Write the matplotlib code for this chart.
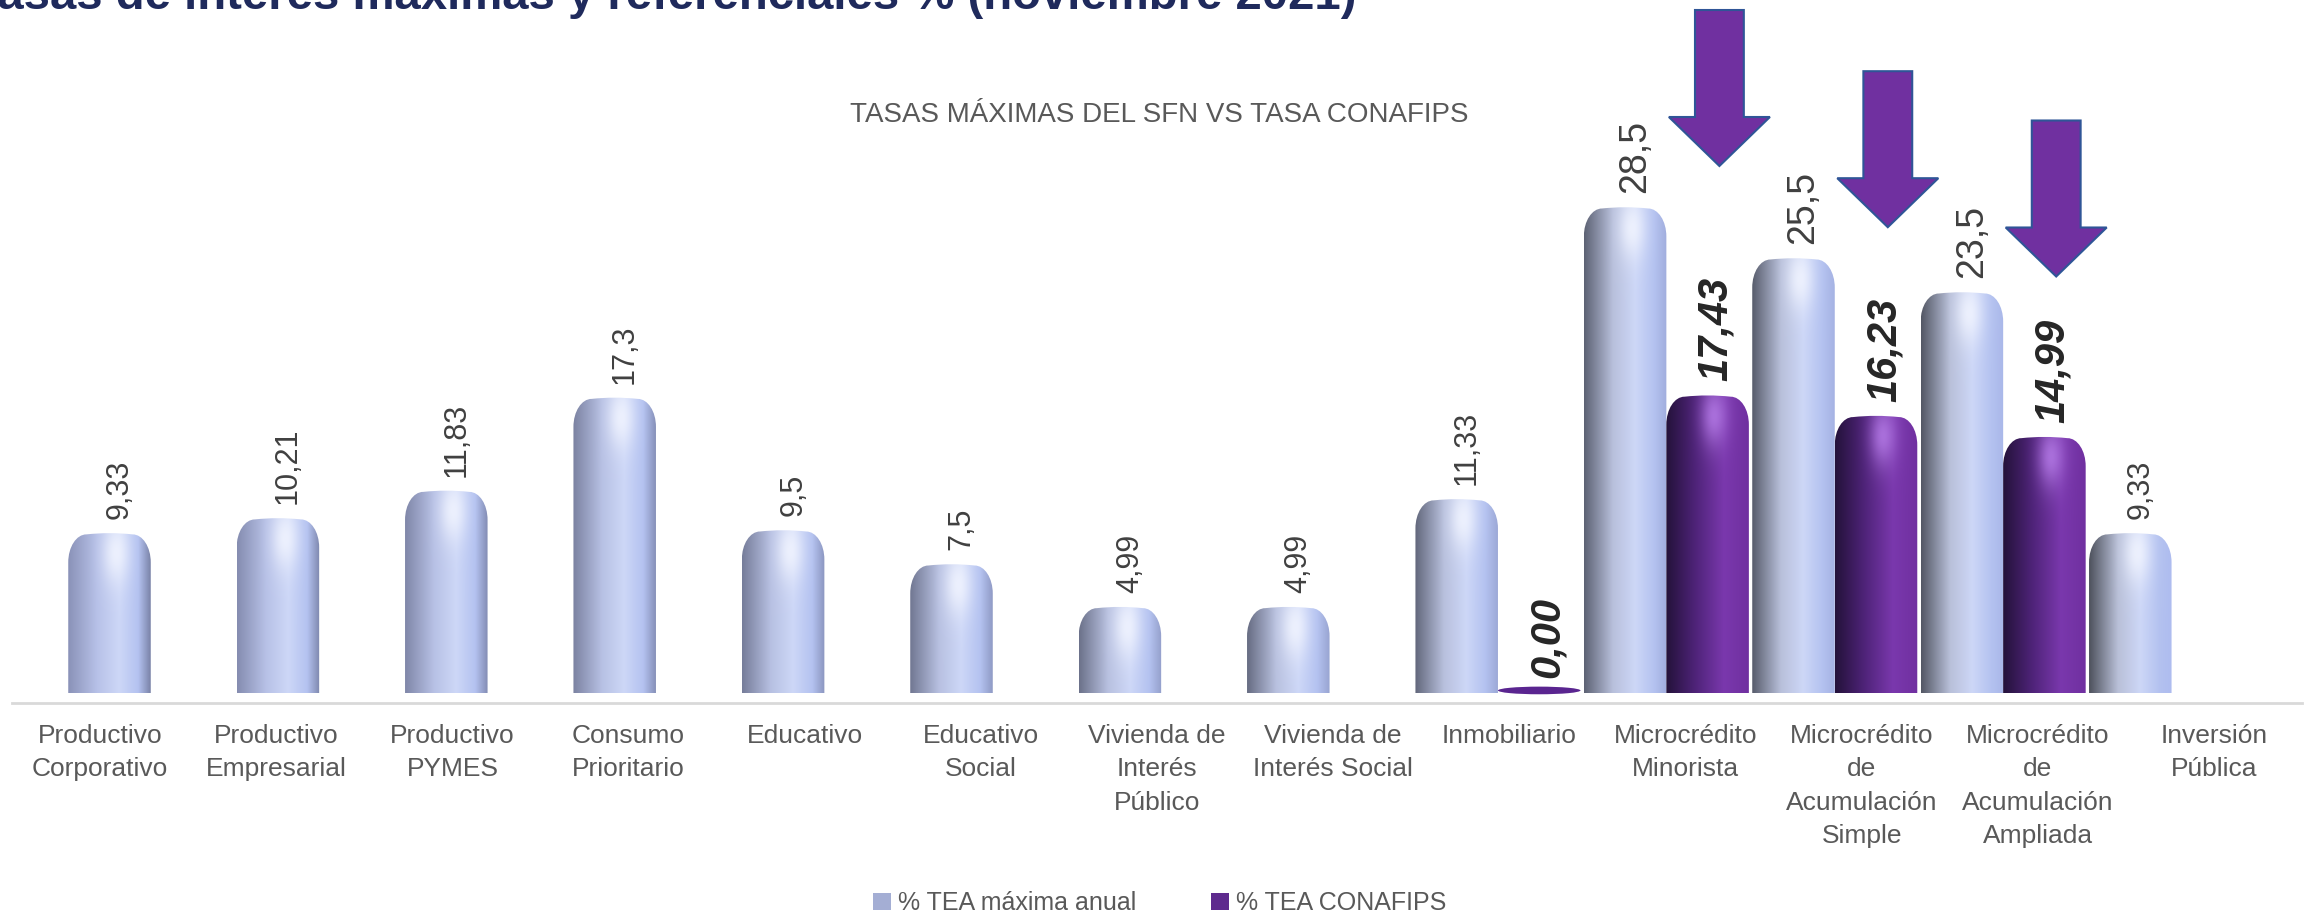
import matplotlib
matplotlib.use("Agg")
import matplotlib.pyplot as plt
import numpy as np
from matplotlib.path import Path
from matplotlib.patches import PathPatch, Polygon, Ellipse, Patch
from matplotlib.colors import to_rgb

plt.rcParams['font.family'] = ['Liberation Sans Narrow', 'Liberation Sans', 'DejaVu Sans']

# datos
categorias = ['Productivo\nCorporativo', 'Productivo\nEmpresarial', 'Productivo\nPYMES',
              'Consumo\nPrioritario', 'Educativo', 'Educativo\nSocial',
              'Vivienda de\nInterés\nPúblico', 'Vivienda de\nInterés Social', 'Inmobiliario',
              'Microcrédito\nMinorista', 'Microcrédito\nde\nAcumulación\nSimple',
              'Microcrédito\nde\nAcumulación\nAmpliada', 'Inversión\nPública']
tea_maxima = [9.33, 10.21, 11.83, 17.3, 9.5, 7.5, 4.99, 4.99, 11.33, 28.5, 25.5, 23.5, 9.33]
tea_conafips = [None, None, None, None, None, None, None, None, 0.00, 17.43, 16.23, 14.99, None]
serie_nombres = ['% TEA máxima anual', '% TEA CONAFIPS']

titulo = 'Tasas de interés máximas y referenciales % (noviembre 2021)'
subtitulo = 'TASAS MÁXIMAS DEL SFN VS TASA CONAFIPS'

# flechas sobre las barras CONAFIPS (punta en unidades del eje)
flechas_punta = [31.0, 27.4, 24.5]
flechas_cat = [9, 10, 11]

W, H = 2321, 919
PX_UNIT_Y = 17.0
PX_UNIT_X = 168.4
BAR_W = 0.49


def fmt(v):
    return ('%g' % v).replace('.', ',')


def ramp(stops, n=120):
    xs = np.linspace(0, 1, n)
    pos = [p for p, _ in stops]
    cols = np.array([to_rgb(c) for _, c in stops])
    return np.stack([np.interp(xs, pos, cols[:, k]) for k in range(3)], axis=1)


def bar_path(x0, w, h):
    rx = 0.22 * w
    ry = min(28.0 / PX_UNIT_Y, h * 0.9)
    k = 0.5523
    x1 = x0 + w
    verts = [(x0, 0), (x0, h - ry),
             (x0, h - ry + k * ry), (x0 + rx - k * rx, h), (x0 + rx, h),
             (x0 + w / 2, h + 0.15), (x1 - rx, h),
             (x1 - rx + k * rx, h), (x1, h - ry + k * ry), (x1, h - ry),
             (x1, 0), (x0, 0)]
    codes = [Path.MOVETO, Path.LINETO,
             Path.CURVE4, Path.CURVE4, Path.CURVE4,
             Path.CURVE3, Path.CURVE3,
             Path.CURVE4, Path.CURVE4, Path.CURVE4,
             Path.LINETO, Path.CLOSEPOLY]
    return Path(verts, codes)


def shaded_bar(ax, x, h, stops, hilite):
    x0 = x - BAR_W / 2
    patch = PathPatch(bar_path(x0, BAR_W, h), facecolor='none', edgecolor='none')
    ax.add_patch(patch)
    row = ramp(stops)
    ny = 200
    img = np.repeat(row[None, :, :], ny, axis=0)
    # brillo bajo la tapa
    yy = np.linspace(h, 0, ny)[:, None]
    xx = np.linspace(0, 1, row.shape[0])[None, :]
    cap = h - 22.0 / PX_UNIT_Y
    g = np.exp(-((xx - 0.58) / 0.16) ** 2 - ((yy - cap) / (30.0 / PX_UNIT_Y)) ** 2)
    img = img + g[:, :, None] * (np.array(to_rgb(hilite)) - img) * 0.85
    img = np.clip(img, 0, 1)
    im = ax.imshow(img, extent=[x0, x0 + BAR_W, 0, h + 0.2], aspect='auto',
                   interpolation='bilinear', zorder=2)
    im.set_clip_path(patch)


fig = plt.figure(figsize=(W / 100, H / 100), dpi=100)
rect = [12 / W, (H - 703) / H, 2290 / W, 703 / H]
ax = fig.add_axes(rect)
ax.set_xlim((12 - 109.5) / PX_UNIT_X, (2302 - 109.5) / PX_UNIT_X)
ax.set_ylim(-10 / PX_UNIT_Y, 693 / PX_UNIT_Y)

n = len(categorias)
for i, v in enumerate(tea_maxima):
    t = i / (n - 1)
    left = tuple(np.array(to_rgb('#8a92b8')) * (1 - t) + np.array(to_rgb('#4e525d')) * t)
    mid = tuple(np.array(to_rgb('#b7c1e8')) * (1 - t) + np.array(to_rgb('#b9c0d8')) * t)
    stops = [(0.0, left), (0.35, mid), (0.62, '#cdd7f7'), (0.85, '#b4c2f0'),
             (1.0, tuple(np.array(to_rgb('#7a83a8')) * (1 - t) + np.array(to_rgb('#aebcef')) * t))]
    shaded_bar(ax, i, v, stops, '#f2f5ff')
    big = tea_conafips[i] is not None and tea_conafips[i] > 0
    ax.annotate(fmt(v), (i + 0.06, v), xytext=(0, 11), textcoords='offset points',
                rotation=90, ha='center', va='bottom', color='#404040',
                fontsize=27 if big else 22)

for i, v in enumerate(tea_conafips):
    if v is None:
        continue
    xc = i + BAR_W
    if v > 0:
        stops = [(0.0, '#24123a'), (0.35, '#4e2378'), (0.7, '#7a38ad'), (1.0, '#7030a0')]
        shaded_bar(ax, xc, v, stops, '#b47ae6')
    else:
        ax.add_patch(Ellipse((xc, 0.15), BAR_W, 0.45, facecolor='#5a2590',
                             edgecolor='none', zorder=2))
    ax.annotate(('%.2f' % v).replace('.', ','), (xc + 0.05, v),
                xytext=(0, 11), textcoords='offset points', rotation=90,
                ha='center', va='bottom', color='#262626', fontsize=30,
                fontweight='bold', fontstyle='italic')

# flechas
shaft = 0.145
head = 0.30
head_len = 49 / PX_UNIT_Y
arrow_len = 156 / PX_UNIT_Y
for c, tip in zip(flechas_cat, flechas_punta):
    xc = c + 0.56
    top = tip + arrow_len
    pts = [(xc - shaft, top), (xc + shaft, top), (xc + shaft, tip + head_len),
           (xc + head, tip + head_len), (xc, tip), (xc - head, tip + head_len),
           (xc - shaft, tip + head_len)]
    ax.add_patch(Polygon(pts, closed=True, facecolor='#7030a0', edgecolor='#2f5597',
                         linewidth=1.5, zorder=4, clip_on=False))

for s in ['top', 'left', 'right']:
    ax.spines[s].set_visible(False)
ax.spines['bottom'].set_color('#d9d9d9')
ax.spines['bottom'].set_linewidth(2)
ax.set_xticks([])
ax.set_yticks([])
ax.patch.set_alpha(0)

# eje de categorías
ax2 = fig.add_axes(rect)
ax2.set_xlim(-0.5, n - 0.5)
ax2.set_ylim(0, 1)
ax2.patch.set_alpha(0)
for s in ax2.spines.values():
    s.set_visible(False)
ax2.set_yticks([])
ax2.set_xticks(range(n))
ax2.set_xticklabels(categorias, fontsize=19, color='#595959', linespacing=1.5)
ax2.tick_params(axis='x', length=0, pad=15)
ax2.set_zorder(-1)

fig.text(-28 / W, 1 - 9 / H, titulo, ha='left', va='baseline', fontsize=34,
         fontweight='bold', color='#1f2a5c')
fig.text(1159 / W, 1 - 115 / H, subtitulo, ha='center', va='center', fontsize=20,
         color='#595959')

handles = [Patch(facecolor='#a4aed4', edgecolor='none'),
           Patch(facecolor='#5e2a8e', edgecolor='none')]
fig.legend(handles, serie_nombres, loc='center', bbox_to_anchor=(1160 / W, 1 - 903 / H),
           ncol=2, frameon=False, fontsize=18, handlelength=0.7, handleheight=0.7,
           handletextpad=0.3, columnspacing=3.0, labelcolor='#595959')

fig.savefig('out.png', dpi=100)
